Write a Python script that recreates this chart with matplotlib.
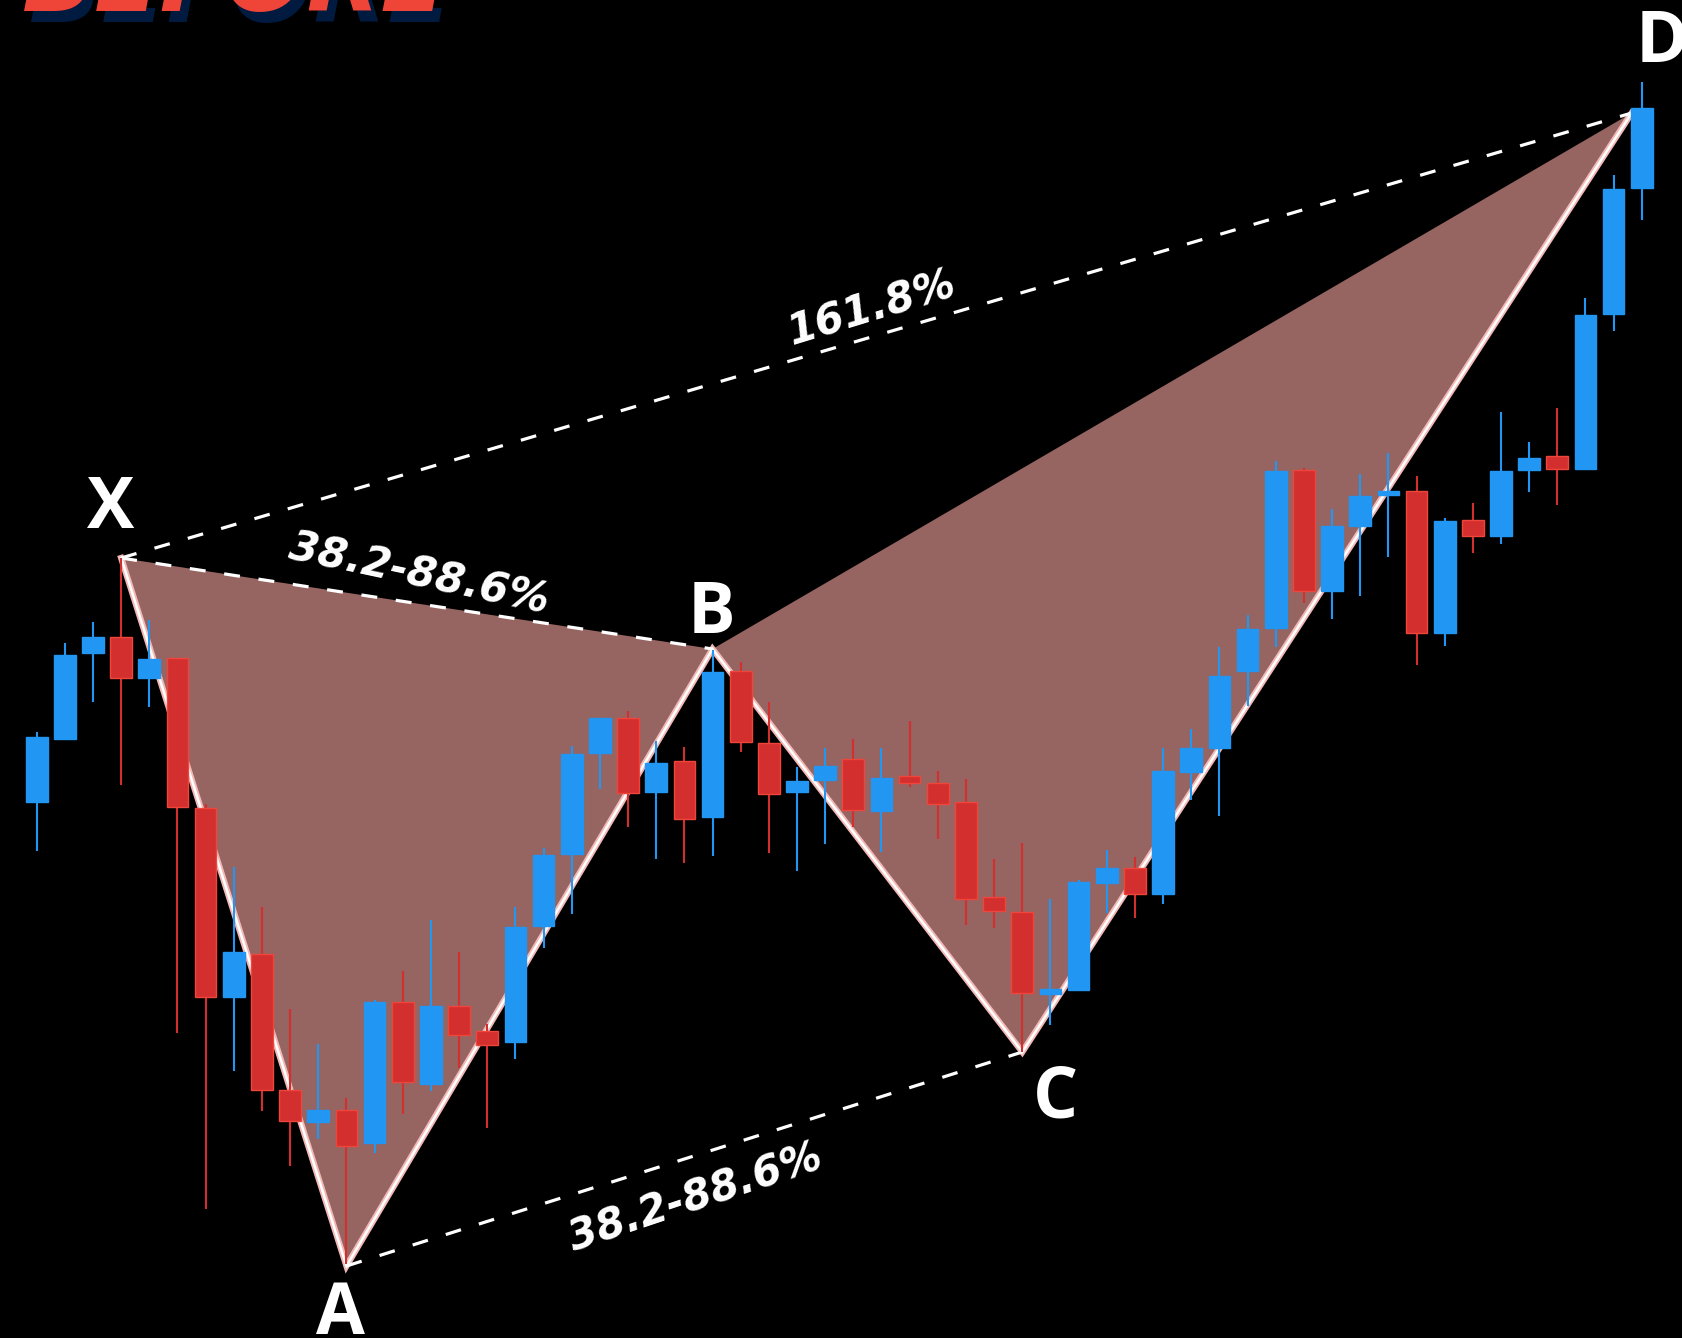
import matplotlib
matplotlib.use("Agg")
import matplotlib.pyplot as plt
import numpy as np

plt.rcParams['lines.scale_dashes'] = False

# ---------------- data (candle index, prices) ----------------
opens  = [536, 599, 685, 701, 660, 680, 530, 341, 384, 248, 216, 228, 195, 336, 254, 332, 307, 296, 412, 484,
          585, 620, 546, 577, 521, 667, 595, 546, 558, 579, 527, 562, 555, 536, 441, 426, 344, 348, 455, 470,
          444, 566, 590, 667, 710, 868, 747, 812, 843, 847, 705, 818, 802, 868, 882, 869, 1024, 1150]
highs  = [606, 695, 716, 780, 718, 680, 534, 471, 431, 329, 294, 240, 338, 367, 418, 386, 314, 431, 490, 592,
          620, 627, 597, 591, 688, 676, 636, 571, 590, 599, 590, 617, 567, 559, 479, 495, 439, 458, 488, 481,
          590, 609, 691, 723, 877, 870, 829, 864, 885, 862, 820, 835, 926, 896, 930, 1040, 1163, 1256]
lows   = [487, 599, 636, 553, 631, 305, 129, 267, 227, 172, 199, 74, 185, 224, 247, 270, 210, 279, 390, 424,
          549, 511, 479, 475, 482, 586, 485, 467, 494, 511, 486, 551, 499, 413, 410, 286, 313, 348, 425, 420,
          434, 538, 522, 632, 691, 735, 719, 742, 781, 673, 692, 785, 794, 846, 833, 868, 1007, 1118]
closes = [601, 683, 701, 660, 679, 531, 341, 386, 248, 217, 228, 192, 336, 256, 332, 303, 293, 411, 483, 584,
          620, 545, 575, 519, 666, 596, 544, 557, 572, 528, 560, 555, 534, 439, 427, 345, 349, 456, 470, 444,
          567, 590, 662, 709, 867, 747, 812, 842, 847, 705, 817, 802, 867, 880, 869, 1023, 1149, 1230]

# harmonic pattern points (candle index, price)
pattern_names = ["X", "A", "B", "C", "D"]
pattern_x = [3.0, 11.0, 24.0, 35.0, 56.64]
pattern_y = [780, 72, 689, 286, 1225]

ratio_labels = ["38.2-88.6%", "161.8%", "38.2-88.6%"]

# ---------------- styling ----------------
BLUE = "#2196F3"
RED = "#D32F2F"
RED_EDGE = "#F0453A"
FILL = "#966461"

fig = plt.figure(figsize=(16.82, 13.38), dpi=100)
fig.patch.set_facecolor("black")
ax = fig.add_axes([0, 0, 1, 1])
ax.set_facecolor("black")
ax.set_xlim(-1.303, 58.427)
ax.set_ylim(0, 1338)
ax.axis("off")

px = dict(zip(pattern_names, pattern_x))
py = dict(zip(pattern_names, pattern_y))

# filled triangles XAB and BCD
ax.fill([px["X"], px["A"], px["B"]], [py["X"], py["A"], py["B"]], color=FILL, lw=0, zorder=1)
ax.fill([px["B"], px["C"], px["D"]], [py["B"], py["C"], py["D"]], color=FILL, lw=0, zorder=1)

# legs X-A-B-C-D with white core and pink glow
ax.plot(pattern_x, pattern_y, color="#f3b9b6", lw=4.5, solid_joinstyle="miter", zorder=2)
ax.plot(pattern_x, pattern_y, color="white", lw=1.8, solid_joinstyle="miter", zorder=2.1)

# dashed ratio lines
dash = (11.5, 13.5)
for a, b in [("X", "B"), ("X", "D"), ("A", "C")]:
    ax.plot([px[a], px[b]], [py[a], py[b]], color="white", lw=2.3, dashes=dash, zorder=2.2)

# candles
idx = np.arange(len(opens))
o = np.array(opens); c = np.array(closes); h = np.array(highs); l = np.array(lows)
up = c >= o
colors = np.where(up, BLUE, RED)
edges = np.where(up, BLUE, RED_EDGE)
ax.vlines(idx, l, h, colors=colors, lw=1.5, zorder=3)
ax.bar(idx, np.abs(c - o), bottom=np.minimum(o, c), width=0.77,
       color=colors, edgecolor=edges, linewidth=1.0, zorder=4)

# point labels
label_pos = {"X": (2.61, 810), "A": (10.8, 4), "B": (23.95, 705), "C": (36.18, 220), "D": (57.72, 1276)}
for name in pattern_names:
    x, y = label_pos[name]
    ax.text(x, y, name, color="white", fontsize=51, fontweight="bold", family=["Open Sans", "DejaVu Sans"],
            ha="center", va="baseline", zorder=6)

# ratio texts
ratio_pos = [(13.59, 764, -12.0), (29.63, 1029, 17.0), (23.38, 140, 18.5)]
for txt, (x, y, rot) in zip(ratio_labels, ratio_pos):
    ax.text(x, y, txt, color="white", fontsize=30, fontweight="bold", fontstyle="oblique",
            family="DejaVu Sans", rotation=rot, rotation_mode="anchor",
            ha="center", va="center", zorder=6)

# cut-off "BEFORE" title at the top
W, H = 1682.0, 1338.0
fig.text((22 + 7) / W, (H - 21.7) / H, "BEFORE", color="#001A40", fontsize=69, fontweight="heavy",
         fontstyle="oblique", family="DejaVu Sans", ha="left", va="baseline", zorder=7)
fig.text(22 / W, (H - 10.7) / H, "BEFORE", color="#EF4438", fontsize=69, fontweight="heavy",
         fontstyle="oblique", family="DejaVu Sans", ha="left", va="baseline", zorder=8)

fig.savefig("out.png", dpi=100, facecolor="black")
